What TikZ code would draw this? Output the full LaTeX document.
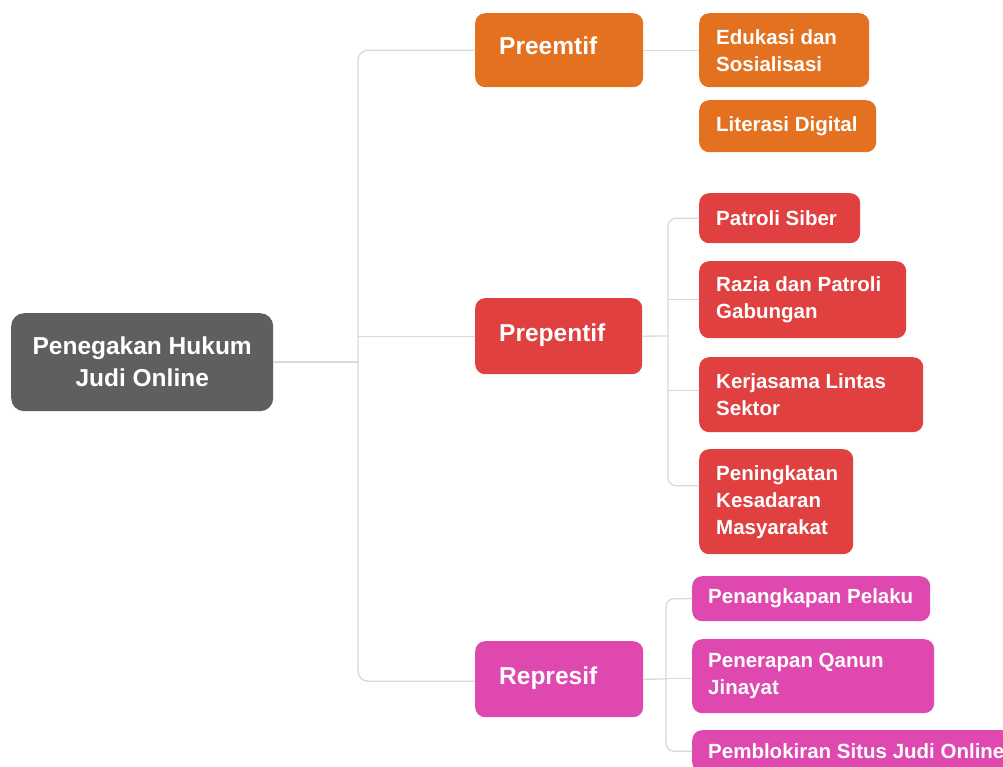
\documentclass[tikz,border=0pt]{standalone}
\usepackage{fontspec}
\setmainfont{Liberation Sans}
\definecolor{cgray}{HTML}{5F5F5F}
\definecolor{corange}{HTML}{E4711F}
\definecolor{cred}{HTML}{E0403F}
\definecolor{cmag}{HTML}{DF48AE}
\definecolor{cline}{HTML}{D9D9D9}
\begin{document}
\begin{tikzpicture}[x=1pt,y=-1pt,
  cbox/.style={fill=#1, draw=none, rounded corners=10pt, anchor=north west, inner sep=0pt},
  bigtxt/.style={text=white, font=\bfseries\fontsize{24.5}{32}\selectfont, inner sep=0pt},
  ctxt/.style={text=white, font=\bfseries\fontsize{20.5}{27}\selectfont, anchor=west, align=left, inner sep=0pt},
  ltxt/.style={bigtxt, anchor=west, align=left},
  conn/.style={draw=cline, line width=1.3pt}]
\useasboundingbox (0,0) rectangle (1003,767);
\fill[white] (0,0) rectangle (1003,767);

% root
\node[cbox=cgray, minimum width=262pt, minimum height=98pt, rounded corners=13pt] (root) at (11,313) {};
\node[bigtxt, align=center] (roott) at (root.center) {Penegakan Hukum\\Judi Online};

% level 1
\node[cbox=corange, minimum width=168pt, minimum height=74pt] (pre) at (475,13) {};
\node[ltxt] (pret) at ([xshift=24pt,yshift=4pt]pre.west) {Preemtif};
\node[cbox=cred, minimum width=167pt, minimum height=76pt] (pp) at (475,298) {};
\node[ltxt] (ppt) at ([xshift=24pt,yshift=1pt]pp.west) {Prepentif};
\node[cbox=cmag, minimum width=168pt, minimum height=76pt] (rep) at (475,641) {};
\node[ltxt] (rept) at ([xshift=24pt,yshift=1pt]rep.west) {Represif};

% preemtif children
\node[cbox=corange, minimum width=170pt, minimum height=74pt] (edu) at (699,13) {};
\node[ctxt] (edut) at ([xshift=17pt]edu.west) {Edukasi dan\\Sosialisasi};
\node[cbox=corange, minimum width=177pt, minimum height=52pt] (lit) at (699,100) {};
\node[ctxt] (litt) at ([xshift=17pt]lit.west) {Literasi Digital};

% prepentif children
\node[cbox=cred, minimum width=161pt, minimum height=50pt] (pat) at (699,193) {};
\node[ctxt] (patt) at ([xshift=17pt]pat.west) {Patroli Siber};
\node[cbox=cred, minimum width=207pt, minimum height=77pt] (raz) at (699,261) {};
\node[ctxt] (razt) at ([xshift=17pt]raz.west) {Razia dan Patroli\\Gabungan};
\node[cbox=cred, minimum width=224pt, minimum height=75pt] (ker) at (699,357) {};
\node[ctxt] (kert) at ([xshift=17pt]ker.west) {Kerjasama Lintas\\Sektor};
\node[cbox=cred, minimum width=154pt, minimum height=105pt] (pen) at (699,449) {};
\node[ctxt] (pent) at ([xshift=17pt]pen.west) {Peningkatan\\Kesadaran\\Masyarakat};

% represif children
\node[cbox=cmag, minimum width=238pt, minimum height=45pt] (tan) at (692,576) {};
\node[ctxt] (tant) at ([xshift=16pt]tan.west) {Penangkapan Pelaku};
\node[cbox=cmag, minimum width=242pt, minimum height=74pt] (qan) at (692,639) {};
\node[ctxt] (qant) at ([xshift=16pt]qan.west) {Penerapan Qanun\\Jinayat};
\node[cbox=cmag, minimum width=320pt, minimum height=42pt] (blk) at (692,730) {};
\node[ctxt] (blkt) at ([xshift=16pt]blk.west) {Pemblokiran Situs Judi Online};

% connectors
\coordinate (tr) at (358,362);
\coordinate (pb) at (668,336);
\coordinate (rb) at (666,679);
\begin{scope}[on background layer/.style={}]
\draw[conn] (root.east |- tr) -- (tr);
\draw[conn, rounded corners=10pt] (pre.west) -| (tr) |- ([yshift=-2pt]rep.west);
\draw[conn] (pp.west) -- (pp.west -| tr);
\draw[conn] (pre.east) -- (edu.west);
\draw[conn] (pp.east) -- (pb);
\draw[conn, rounded corners=8pt] (pat.west) -| (pb) |- ([yshift=16pt]pen.west);
\draw[conn] (raz.west) -- (raz.west -| pb);
\draw[conn] ([yshift=4pt]ker.west) -- ([yshift=4pt]ker.west -| pb);
\draw[conn] (rep.east) -- (rb);
\draw[conn, rounded corners=8pt] (tan.west) -| (rb) |- (blk.west);
\draw[conn] ([yshift=-2pt]qan.west) -- ([yshift=-2pt]qan.west -| rb);
\end{scope}
\end{tikzpicture}
\end{document}
